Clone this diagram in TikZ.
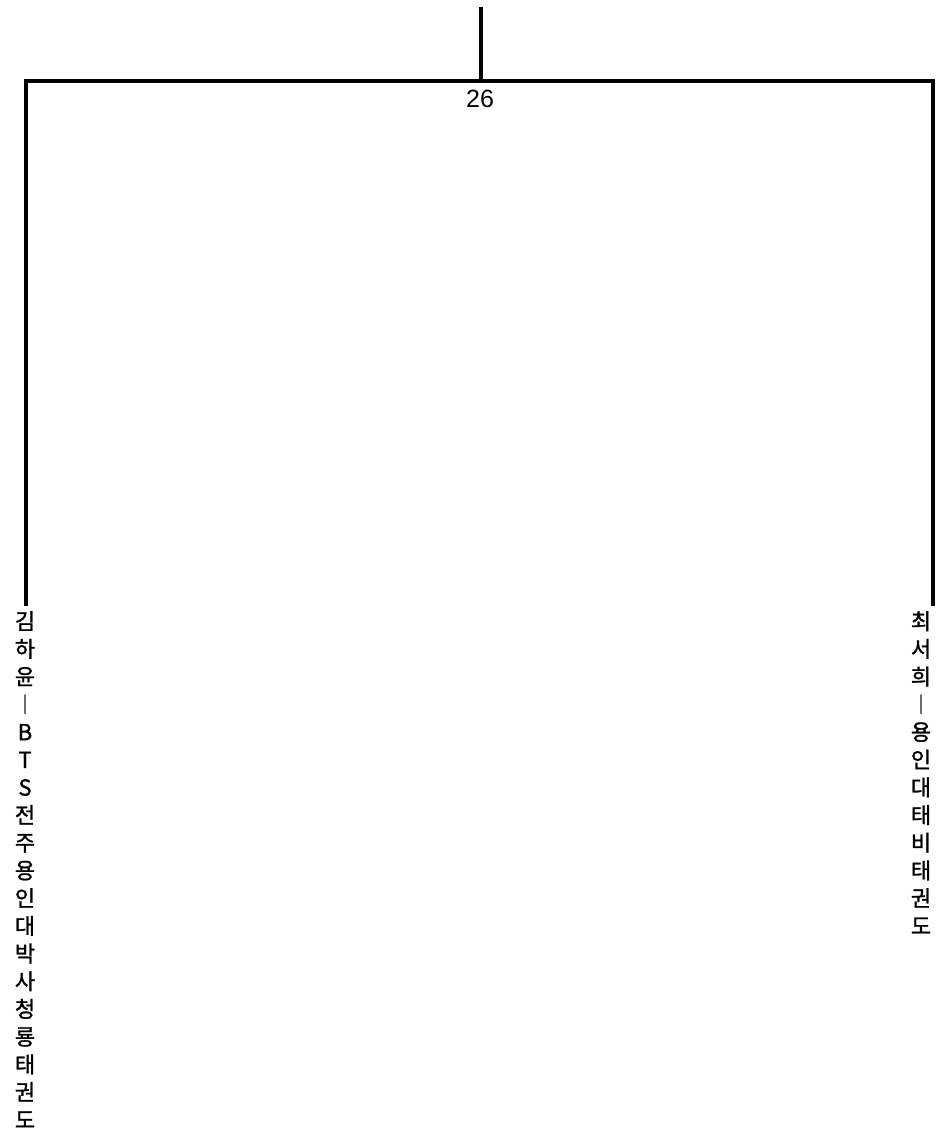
\documentclass[tikz,border=0pt]{standalone}
\usepackage{fontspec}
\setmainfont{Liberation Sans}
\newfontfamily\cjk[FakeBold=1.2]{Noto Sans CJK KR}
\usetikzlibrary{positioning}

\begin{document}
\begin{tikzpicture}[x=1pt, y=-1pt, branch/.style={line width=3.6pt}, leaf/.style={inner sep=0pt, anchor=north, align=center, font=\cjk\fontsize{22}{27.7}\selectfont}]
    \useasboundingbox (0,0) rectangle (943,1140);
    \coordinate (top) at (481,7);
    \coordinate (join) at (481,81);
    \coordinate (kim) at (26,606);
    \coordinate (choi) at (933,606);
    \draw[branch] (top) -- (join);
    \draw[branch] (kim) |- (join) -| (choi);
    \node[inner sep=0pt, font=\fontsize{25}{28}\selectfont, below=9pt of join, xshift=-1pt] (height) {26};
    \node[leaf] (kimlabel) at (25,611) {김\\하\\윤\\︱\\B\\T\\S\\전\\주\\용\\인\\대\\박\\사\\청\\룡\\태\\권\\도};
    \node[leaf] (choilabel) at (921,611) {최\\서\\희\\︱\\용\\인\\대\\태\\비\\태\\권\\도};
\end{tikzpicture}
\end{document}
